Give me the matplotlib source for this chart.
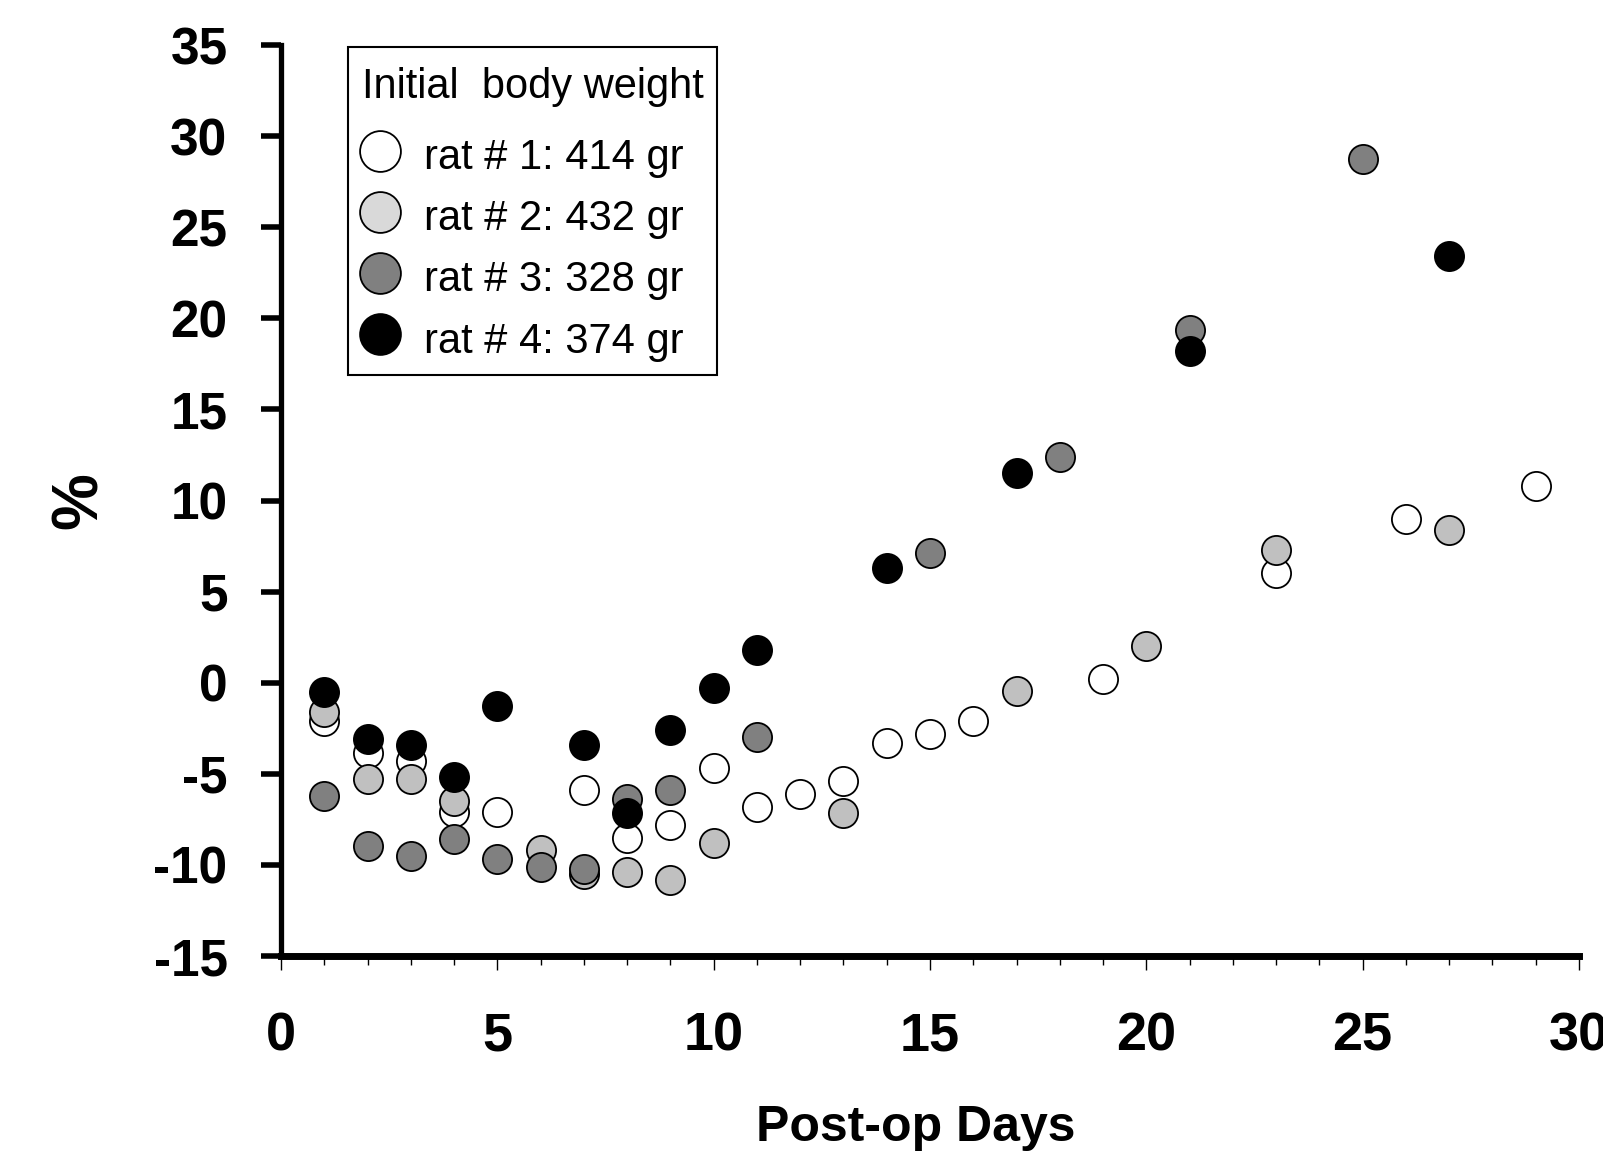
import matplotlib.pyplot as plt
from matplotlib.offsetbox import DrawingArea, VPacker
from matplotlib.ticker import MultipleLocator

plt.rcParams['font.family'] = ['Liberation Sans', 'DejaVu Sans']
plt.rcParams['font.weight'] = 'bold'
plt.rcParams['axes.unicode_minus'] = False

# %% data: % change of body weight vs post-op day
days_1 = [1, 2, 3, 4, 5, 7, 8, 9, 10, 11, 12, 13, 14, 15, 16, 19, 23, 26, 29]
rat_1 = [-2.1, -3.85, -4.3, -7.1, -7.1, -5.9, -8.5, -7.8, -4.7, -6.8, -6.1,
         -5.4, -3.3, -2.8, -2.1, 0.2, 6.0, 9.0, 10.8]

days_2 = [1, 2, 3, 4, 6, 7, 8, 9, 10, 13, 17, 20, 23, 27]
rat_2 = [-1.6, -5.3, -5.3, -6.5, -9.2, -10.5, -10.4, -10.8, -8.8, -7.15,
         -0.45, 2.0, 7.3, 8.4]

days_3 = [1, 2, 3, 4, 5, 6, 7, 8, 9, 11, 15, 18, 21, 25]
rat_3 = [-6.2, -8.95, -9.5, -8.6, -9.7, -10.1, -10.2, -6.4, -5.9, -3.0, 7.1,
         12.4, 19.35, 28.75]

days_4 = [1, 2, 3, 4, 5, 7, 8, 9, 10, 11, 14, 17, 21, 27]
rat_4 = [-0.5, -3.1, -3.4, -5.2, -1.3, -3.4, -7.15, -2.6, -0.3, 1.8, 6.3,
         11.5, 18.2, 23.4]

labels = ['rat # 1: 414 gr', 'rat # 2: 432 gr', 'rat # 3: 328 gr',
          'rat # 4: 374 gr']
fills = ['white', '#c0c0c0', '#808080', 'black']

# %% plot
fig = plt.figure(figsize=(16.03, 11.58), dpi=100)
ax = fig.add_axes([0.1753, 0.1744, 0.8097, 0.7867])

series = [(days_1, rat_1), (days_2, rat_2), (days_3, rat_3), (days_4, rat_4)]
handles = []
for (d, v), c, lab in zip(series, fills, labels):
    h, = ax.plot(d, v, linestyle='None', marker='o', markersize=21,
                 markerfacecolor=c, markeredgecolor='black',
                 markeredgewidth=1.3, label=lab, clip_on=False)
    handles.append(h)

ax.set_xlim(0, 30)
ax.set_ylim(-15, 35)
ax.spines['top'].set_visible(False)
ax.spines['right'].set_visible(False)
ax.spines['left'].set_linewidth(3.8)
ax.spines['bottom'].set_linewidth(5)

ax.yaxis.set_major_locator(MultipleLocator(5))
ax.xaxis.set_major_locator(MultipleLocator(5))
ax.xaxis.set_minor_locator(MultipleLocator(1))
ax.tick_params(axis='y', direction='out', length=14.5, width=4, pad=24,
               labelsize=37)
ax.tick_params(axis='x', which='major', direction='out', length=10, width=1,
               pad=30, labelsize=39)
ax.tick_params(axis='x', which='minor', direction='out', length=6.5, width=1)

ax.set_xlabel('Post-op Days', fontsize=36, fontweight='bold')
ax.xaxis.set_label_coords(0.489, -0.163)
ax.set_ylabel('%', fontsize=46, fontweight='bold')
ax.yaxis.label.set_verticalalignment('center')
ax.yaxis.set_label_coords(-0.155, 0.5)

leg = ax.legend(handles=handles, title='Initial  body weight',
                loc='upper left', bbox_to_anchor=(0.052, 0.9978),
                borderaxespad=0, fancybox=False, edgecolor='black',
                framealpha=1, markerscale=1.4,
                prop={'size': 30, 'weight': 'normal'},
                title_fontproperties={'size': 30, 'weight': 'normal'},
                alignment='left', handlelength=0.88, handleheight=1.3,
                handletextpad=0.62, labelspacing=0.375, borderpad=0.32)
leg.get_frame().set_linewidth(1.5)
leg.legend_handles[1].set_markerfacecolor('#d9d9d9')
# a bit more room above the title, and between title and entries
title_box = leg._legend_box.get_children()[0]
leg._legend_box.get_children()[0] = VPacker(
    pad=0, sep=0, align='left', children=[DrawingArea(1, 5), title_box])
leg._legend_box.sep = 17.9

fig.savefig('out.png', dpi=100)
